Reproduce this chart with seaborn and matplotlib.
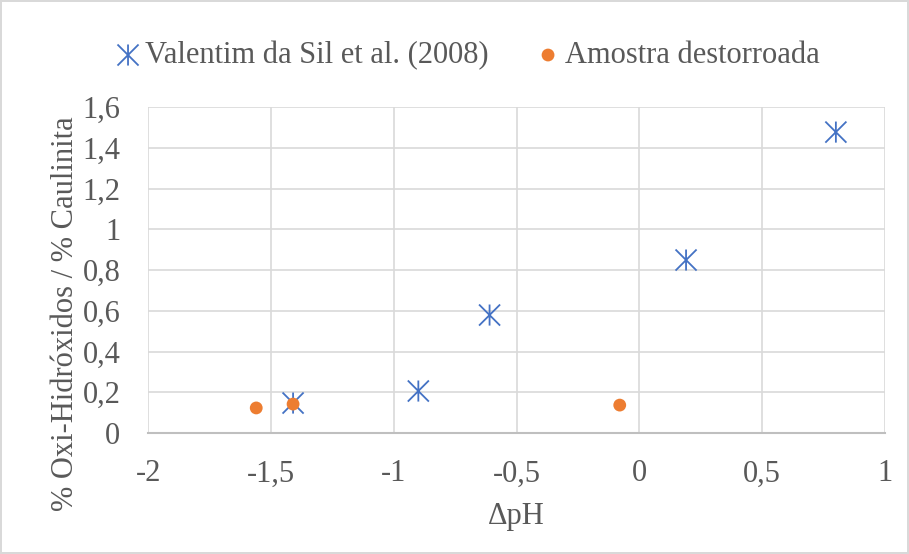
import matplotlib
matplotlib.use("Agg")
import matplotlib.pyplot as plt
from matplotlib.path import Path
import seaborn as sns
import pandas as pd

# data
valentim_x = [-1.41, -0.90, -0.61, 0.19, 0.80]
valentim_y = [0.147, 0.206, 0.579, 0.849, 1.477]
amostra_x = [-1.56, -1.41, -0.08]
amostra_y = [0.123, 0.142, 0.137]

x_ticks = [-2, -1.5, -1, -0.5, 0, 0.5, 1]
y_ticks = [0, 0.2, 0.4, 0.6, 0.8, 1.0, 1.2, 1.4, 1.6]

serie_a = "Valentim da Sil et al. (2008)"
serie_b = "Amostra destorroada"

df = pd.concat([
    pd.DataFrame({"dpH": valentim_x, "ratio": valentim_y, "serie": serie_a}),
    pd.DataFrame({"dpH": amostra_x, "ratio": amostra_y, "serie": serie_b}),
])

# excel style "*" marker: an X with a vertical bar
star = Path(
    [(-1, -1), (1, 1), (-1, 1), (1, -1), (0, -1), (0, 1)],
    [Path.MOVETO, Path.LINETO, Path.MOVETO, Path.LINETO, Path.MOVETO, Path.LINETO],
)

sns.set_style("white")
plt.rcParams["font.family"] = ["Liberation Serif", "DejaVu Serif"]

text_col = "#595959"
grid_col = "#d9d9d9"
blue = "#4472c4"
orange = "#ed7d31"
fs = 22

fig = plt.figure(figsize=(9.09, 5.54), dpi=100, edgecolor=grid_col, linewidth=1.5)
ax = fig.add_axes([0.163, 0.2184, 0.8106, 0.5884])

sns.scatterplot(
    data=df[df.serie == serie_a], x="dpH", y="ratio",
    marker=star, s=230, color=blue, edgecolor=blue, facecolor="none",
    linewidth=1.3, label=serie_a, ax=ax, zorder=3
)
sns.scatterplot(
    data=df[df.serie == serie_b], x="dpH", y="ratio",
    marker="o", s=85, color=orange, edgecolor="none",
    label=serie_b, ax=ax, zorder=4
)

ax.set_xlim(-2, 1)
ax.set_ylim(0, 1.6)
ax.set_xticks(x_ticks)
ax.set_yticks(y_ticks)
ax.set_xticklabels([f"{v:g}".replace(".", ",") for v in x_ticks])
ax.set_yticklabels([f"{v:g}".replace(".", ",") for v in y_ticks])
ax.grid(True, color=grid_col, linewidth=1.2)
ax.set_axisbelow(True)
for side in ["top", "right", "left"]:
    ax.spines[side].set_visible(False)
ax.spines["bottom"].set_color("#bfbfbf")
ax.spines["bottom"].set_linewidth(1.5)
ax.tick_params(length=0, labelsize=fs, colors=text_col)
ax.tick_params(axis="x", pad=19)
ax.tick_params(axis="y", pad=20)

ax.set_xlabel("ΔpH", fontsize=fs, color=text_col, labelpad=10)
ax.set_ylabel("% Oxi-Hidróxidos / % Caulinita", fontsize=fs, color=text_col)
ax.yaxis.set_label_coords(-0.092, 0.365)

ax.legend(
    loc="center", bbox_to_anchor=(0.512, 0.9), bbox_transform=fig.transFigure,
    ncol=2, frameon=False, fontsize=fs, labelcolor=text_col,
    handletextpad=0.0, columnspacing=1.4, handlelength=1.1,
    borderaxespad=0
)

fig.savefig("out.png", dpi=100)
